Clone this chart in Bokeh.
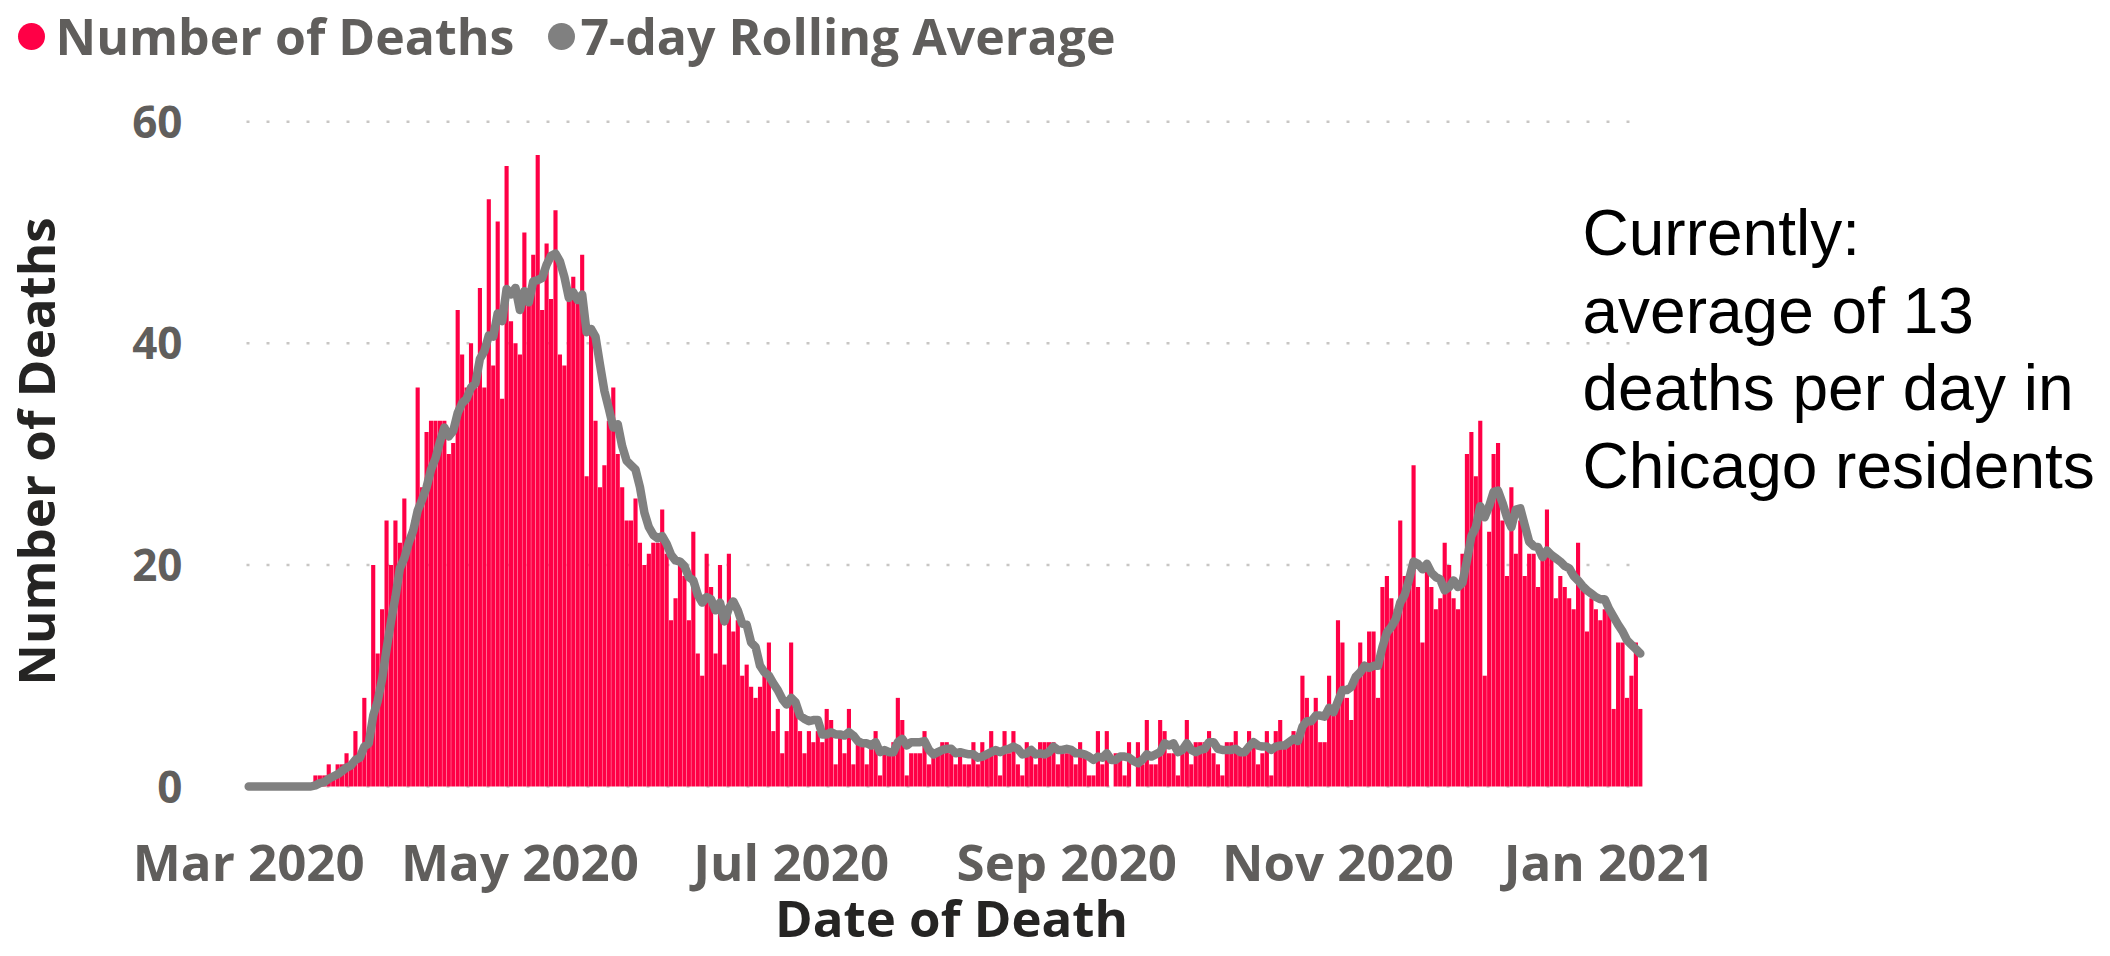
import numpy as np
import pandas as pd
from bokeh.plotting import figure
from bokeh.models import Range1d, Label, ColumnDataSource
from bokeh.core.properties import value
from bokeh.embed import file_html
from bokeh.resources import INLINE

# ---------------- data ----------------
start_date = "2020-03-01"

deaths = [
    0, 0, 0, 0, 0, 0, 0, 0, 0, 0, 0, 0, 0, 0, 0,
    1, 1, 1, 2, 1, 2, 2, 3, 2, 5, 3, 8, 4, 20, 12, 16, 24,
    20, 24, 22, 26, 22, 24, 36, 27, 32, 33, 33, 33, 33, 30, 31, 43, 39, 36, 40, 36,
    45, 36, 53, 38, 51, 35, 56, 42, 40, 39,
    50, 44, 48, 57, 43, 49, 44, 52, 39, 38, 44, 46, 44, 48, 28, 41, 33, 27, 29, 33,
    36, 30, 27, 24, 24, 26, 22, 20, 21, 22,
    22, 25, 21, 15, 17, 20, 19, 15, 23, 12, 10, 21, 18, 12, 20, 11, 21, 14, 15, 10,
    11, 9, 8, 9, 10, 13, 5, 7, 3, 5,
    13, 7, 5, 3, 5, 4, 5, 4, 7, 6, 2, 5, 3, 7, 2, 4, 4, 2, 4, 5,
    1, 3, 3, 4, 8, 6, 1, 3, 3, 3,
    5, 2, 3, 3, 4, 4, 3, 2, 3, 2, 2, 4, 2, 4, 3, 5, 3, 1, 5, 3,
    5, 2, 1, 4, 3, 2, 4, 4, 4, 4,
    2, 3, 3, 3, 2, 4, 3, 1, 1, 5, 2, 5, 0, 3, 3, 1, 4, 0, 4, 2,
    6, 2, 2, 6, 5, 3, 3, 1, 3, 6,
    2, 4, 4, 4, 5, 3, 2, 1, 4, 4, 5, 3, 3, 5, 4, 2, 3, 5, 1, 5,
    6, 4, 4, 5, 4, 10, 8, 6, 8, 4,
    4, 10, 7, 15, 13, 8, 6, 10, 13, 11, 14, 14, 8, 18, 19, 17, 16, 24, 19, 18,
    29, 18, 13, 20, 18, 16, 17, 22, 20, 17,
    16, 21, 30, 32, 28, 33, 10, 23, 30, 31, 24, 19, 27, 21, 24, 19, 21, 21, 18, 21,
    25, 21, 17, 19, 18, 17, 16, 22, 18, 14,
    17, 16, 15, 16, 16, 7, 13, 13, 8, 10, 13, 7,
]

rolling_avg = [
    0, 0, 0, 0, 0, 0, 0, 0, 0, 0, 0, 0, 0, 0, 0,
    0.1, 0.3, 0.4, 0.7, 0.9, 1.1, 1.4, 1.7, 1.9, 2.4, 2.6, 3.6, 3.9, 6.4, 7.7, 9.7, 12.4,
    14.9, 17.1, 19.7, 20.6, 22.0, 23.1, 24.9, 25.9, 27.0, 28.6, 29.6, 31.1, 32.4, 31.6,
    32.1, 33.7, 34.6, 35.0, 36.0, 36.4, 38.6, 39.3, 40.7, 40.6, 42.7, 42.0, 44.9, 44.4,
    45.0, 43.0,
    44.7, 43.7, 45.6, 45.7, 45.9, 47.1, 47.9, 48.1, 47.4, 46.0, 44.1, 44.6, 43.9, 44.4,
    41.0, 41.3, 40.6, 38.1, 35.7, 34.1, 32.4, 32.7, 30.7, 29.4, 29.0, 28.6, 27.0, 24.7,
    23.4, 22.7,
    22.4, 22.6, 21.9, 20.9, 20.4, 20.3, 19.9, 18.9, 18.6, 17.3, 16.6, 17.1, 16.9, 15.9,
    16.6, 14.9, 16.1, 16.7, 15.9, 14.7, 14.6, 13.0, 12.6, 10.9, 10.3, 10.0, 9.3, 8.7,
    7.9, 7.4,
    8.0, 7.6, 6.4, 6.1, 5.9, 6.0, 6.0, 4.7, 4.7, 4.9, 4.7, 4.7, 4.6, 4.9, 4.6, 4.1,
    3.9, 3.9, 3.7, 4.0, 3.1, 3.3, 3.1, 3.1, 4.0, 4.3, 3.7, 4.0, 4.0, 4.0,
    4.1, 3.3, 2.9, 3.1, 3.3, 3.4, 3.4, 3.0, 3.1, 3.0, 2.9, 2.9, 2.6, 2.7, 2.9, 3.1,
    3.3, 3.1, 3.3, 3.4, 3.6, 3.4, 2.9, 3.0, 3.3, 2.9, 3.0, 2.9, 3.1, 3.6,
    3.3, 3.3, 3.4, 3.3, 3.0, 3.0, 2.9, 2.7, 2.4, 2.7, 2.6, 3.0, 2.4, 2.4, 2.7, 2.7,
    2.6, 2.3, 2.1, 2.4, 2.9, 2.7, 2.9, 3.1, 3.9, 3.7, 3.9, 3.1, 3.3, 3.9,
    3.3, 3.1, 3.3, 3.4, 4.0, 4.0, 3.4, 3.3, 3.3, 3.3, 3.4, 3.1, 3.1, 3.6, 4.0, 3.7,
    3.6, 3.6, 3.3, 3.6, 3.7, 3.7, 4.0, 4.3, 4.1, 5.4, 5.9, 5.9, 6.4, 6.4,
    6.3, 7.1, 6.7, 7.7, 8.7, 8.7, 9.0, 9.9, 10.3, 10.9, 10.7, 10.9, 10.9, 12.6, 13.9,
    14.4, 15.1, 16.6, 17.3, 18.7, 20.3, 20.1, 19.6, 20.1, 19.3, 18.9, 18.7, 17.7, 18.0,
    18.6,
    18.0, 18.4, 20.4, 22.6, 23.4, 25.3, 24.3, 25.3, 26.6, 26.7, 25.6, 24.3, 23.4, 25.0,
    25.1, 23.6, 22.1, 21.7, 21.6, 20.7, 21.3, 20.9, 20.6, 20.3, 19.9, 19.7, 19.0, 18.6,
    18.1, 17.7,
    17.4, 17.1, 16.9, 16.9, 16.0, 15.3, 14.6, 14.0, 13.2, 12.8, 12.4, 12.0,
]

tick_dates = ["2020-03-01", "2020-05-01", "2020-07-01", "2020-09-01", "2020-11-01", "2021-01-01"]
tick_labels = ["Mar 2020", "May 2020", "Jul 2020", "Sep 2020", "Nov 2020", "Jan 2021"]
y_ticks = [0, 20, 40, 60]
legend_labels = ["Number of Deaths", "7-day Rolling Average"]
x_title = "Date of Death"
y_title = "Number of Deaths"
note_lines = ["Currently:", "average of 13", "deaths per day in", "Chicago residents"]

# ---------------- styling / layout ----------------
BAR = "#FF0046"
LINE = "#808080"
TICK = "#605E5C"
TITLE = "#252423"
GRID = "#C8C6C4"
FONT = "Open Sans"
OS_MID = 0.388      # Open Sans: em-box middle above the baseline
LS_MID = 0.3465     # Liberation Sans: em-box middle above the baseline

W, H = 2106, 952
PX_DAY = 4.446      # pixels per day
PX_UNIT = 11.08     # pixels per death
X0_PX = 246         # canvas x of the plot area's left edge (day -0.5)
Y0_PX = 786         # canvas y of value 0

n = len(deaths)
dates = pd.date_range(start_date, periods=n, freq="D")
day = np.arange(n)
tick_pos = [int((pd.Timestamp(d) - dates[0]).days) for d in tick_dates]


def X(c):
    return -0.5 + (c - X0_PX) / PX_DAY


def Y(r):
    return (Y0_PX - r) / PX_UNIT


p = figure(width=W, height=H,
           x_range=Range1d(X(0), X(W)), y_range=Range1d(Y(H), Y(0)),
           min_border=0, x_axis_location=None, y_axis_location=None,
           output_backend="svg", toolbar_location=None)
p.grid.visible = False
p.outline_line_color = None
p.background_fill_color = "white"
p.border_fill_color = "white"
p.title.visible = False

# dotted horizontal grid lines at the y ticks (plot area only)
grid_src = ColumnDataSource(dict(x0=[-0.5] * len(y_ticks), x1=[n - 0.05] * len(y_ticks),
                                 y=y_ticks))
p.segment(x0="x0", x1="x1", y0="y", y1="y", source=grid_src, line_color=GRID,
          line_width=2.5, line_dash="3 17")

src = ColumnDataSource(dict(day=day, date=dates, deaths=deaths, avg=rolling_avg))
p.vbar(x="day", top="deaths", bottom=0, width=0.93, source=src,
       fill_color=BAR, line_color=None)
p.line(x="day", y="avg", source=src, line_width=8.5, line_color=LINE,
       line_join="round", line_cap="round")

# y tick labels
ytl = ColumnDataSource(dict(x=[X(182)] * len(y_ticks), y=y_ticks, t=[str(v) for v in y_ticks]))
p.text(x="x", y="y", text="t", source=ytl, text_font=value(FONT), text_font_style="bold",
       text_font_size="44px", text_color=TICK, text_align="right", text_baseline="middle")

# x tick labels (baseline at y=880 px)
xtl = ColumnDataSource(dict(x=tick_pos, y=[Y(880 - OS_MID * 51)] * len(tick_pos), t=tick_labels))
p.text(x="x", y="y", text="t", source=xtl, text_font=value(FONT), text_font_style="bold",
       text_font_size="51px", text_color=TICK, text_align="center", text_baseline="middle")


def lab(cx, base, text, size=51, mid=OS_MID, vertical=False, **kw):
    """Place a text whose alphabetic baseline is at `base` px (x px when vertical)."""
    opts = dict(text_font=FONT, text_font_style="bold", text_font_size=f"{size}px",
                text_color=TICK, text_align="left", text_baseline="middle")
    opts.update(kw)
    if vertical:
        x, y = X(base - mid * size), Y(cx)
        opts["angle"] = np.pi / 2
    else:
        x, y = X(cx), Y(base - mid * size)
    p.add_layout(Label(x=x, y=y, text=text, **opts))


# legend (kept fully inside the canvas)
p.scatter(x=[X(31), X(561)], y=[Y(36), Y(36)], size=27, marker="circle",
          fill_color=[BAR, LINE], line_color=None)
lab(55, 55, legend_labels[0], size=50)
lab(580, 55, legend_labels[1], size=50)

# axis titles
lab(451, 54, y_title, vertical=True, text_align="center", text_color=TITLE)
lab(951, 936.5, x_title, text_align="center", text_color=TITLE)

# note
for i, line in enumerate(note_lines):
    lab(1582, 255 + 77.5 * i, line, size=64, mid=LS_MID, text_font="Liberation Sans",
        text_font_style="normal", text_color="black")

open("out.html", "w").write(file_html(p, INLINE))
